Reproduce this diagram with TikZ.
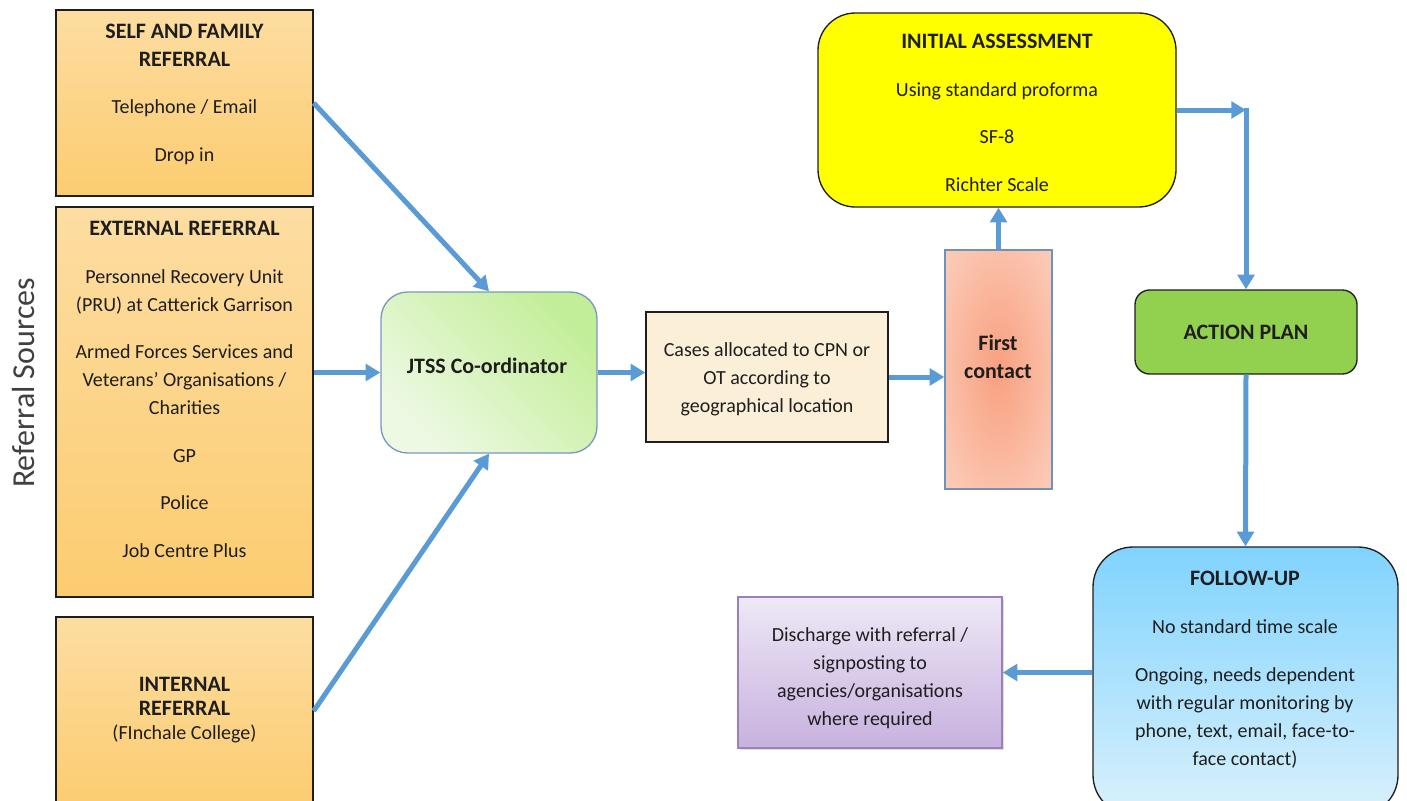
\documentclass[tikz,border=0pt]{standalone}
\usepackage{fontspec}
\setmainfont{Carlito}
\usetikzlibrary{arrows.meta,fit,shadows}
\definecolor{flowblue}{HTML}{5B9BD5}
\definecolor{orTop}{HTML}{FDDDA2}
\definecolor{orBot}{HTML}{FCCC70}
\definecolor{jtssDark}{HTML}{C3EE99}
\definecolor{jtssLight}{HTML}{EEF9E4}
\definecolor{jtssLine}{HTML}{7898BF}
\definecolor{caseFill}{HTML}{FBEFD8}
\definecolor{fcIn}{HTML}{F8A080}
\definecolor{fcMid}{HTML}{FBC4AE}
\definecolor{fcOut}{HTML}{FDE3DA}
\definecolor{fcLine}{HTML}{6F92BC}
\definecolor{iaFill}{HTML}{FFFF00}
\definecolor{apFill}{HTML}{92D050}
\definecolor{fuTop}{HTML}{80D3FE}
\definecolor{fuBot}{HTML}{DAF1FC}
\definecolor{dcTop}{HTML}{EEE8F6}
\definecolor{dcBot}{HTML}{C7B1DE}
\definecolor{dcLine}{HTML}{9C80BC}
\definecolor{txt}{HTML}{1E1E1E}
\pgfdeclareradialshading{fcshade}{\pgfpoint{0bp}{0bp}}{color(0bp)=(fcIn); color(28bp)=(fcMid); color(55bp)=(fcOut); color(75bp)=(fcOut)}
\newcommand\hdr[1]{{\fontsize{16.5}{21}\selectfont\bfseries #1}}
\begin{document}
\begin{tikzpicture}[x=0.75pt,y=-0.75pt,
  box/.style={draw=txt,line width=1pt,inner sep=0pt},
  orbox/.style={box,top color=orTop,bottom color=orBot},
  lbl/.style={align=center,inner sep=0pt,anchor=north,text=txt,font=\fontsize{15}{21}\selectfont},
  flow/.style={draw=flowblue,line width=3.75pt,-{Triangle[length=11pt,width=12.5pt]}}]
\useasboundingbox (0,0) rectangle (1407,800);
\clip (0,0) rectangle (1407,800);

% boxes
\node[orbox, fit={(56,10) (313,196)}] (self) {};
\node[orbox, fit={(56,207) (313,597)}] (ext) {};
\node[orbox, fit={(56,617) (313,805)}] (int) {};
\node[box, draw=jtssLine, rounded corners=20pt, top color=jtssDark, bottom color=jtssLight, shading angle=-45, fit={(381,292) (597,453)}] (jtss) {};
\node[box, fill=caseFill, fit={(646,312) (888,442)}] (cases) {};
\node[box, draw=fcLine, shade, shading=fcshade, fit={(945,250) (1052,489)}] (first) {};
\node[box, fill=iaFill, rounded corners=28pt, fit={(818,13) (1176,207)}] (init) {};
\node[box, fill=apFill, rounded corners=11pt, fit={(1135,290) (1357,374)}] (act) {};
\node[box, rounded corners=30pt, top color=fuTop, bottom color=fuBot, fit={(1093,547) (1398,815)}] (fu) {};
\node[box, draw=dcLine, top color=dcTop, bottom color=dcBot, drop shadow={shadow xshift=1.5pt,shadow yshift=-1.5pt,opacity=0.25}, fit={(738,597) (1002,748)}] (dis) {};

% texts
\node[rotate=90, text=txt!85, inner sep=0pt, font=\fontsize{24}{28}\selectfont] (rs) at (24,383) {Referral Sources};
\node[lbl] (selfT) at (184.5,18.4) {\strut\hdr{SELF AND FAMILY}\\\hdr{REFERRAL}\\[14.6pt]Telephone / Email\\[14.6pt]Drop in};
\node[lbl] (extT) at (184.5,215.9) {\strut\hdr{EXTERNAL REFERRAL}\\[14.6pt]Personnel Recovery Unit\\(PRU) at Catterick Garrison\\[14.6pt]Armed Forces Services and\\Veterans’ Organisations /\\Charities\\[14.6pt]GP\\[14.6pt]Police\\[14.6pt]Job Centre Plus};
\node[lbl] (intT) at (184.5,671.9) {\strut\hdr{INTERNAL}\\[-3pt]\hdr{REFERRAL}\\[-3pt](FInchale College)};
\node[lbl, anchor=center, font=\fontsize{16.5}{21}\selectfont\bfseries] (jtssT) at (487,366) {JTSS Co-ordinator};
\node[lbl] (casesT) at (767,336.4) {\strut Cases allocated to CPN or\\OT according to\\geographical location};
\node[lbl] (firstT) at (998,330.9) {\strut\hdr{First}\\\hdr{contact}};
\node[lbl] (initT) at (997,28.9) {\strut\hdr{INITIAL ASSESSMENT}\\[14.6pt]Using standard proforma\\[14.6pt]SF-8\\[14.6pt]Richter Scale};
\node[lbl, anchor=center, font=\fontsize{16.5}{21}\selectfont\bfseries] (actT) at (act.center) {ACTION PLAN};
\node[lbl] (fuT) at (1245,565.9) {\strut\hdr{FOLLOW-UP}\\[15pt]No standard time scale\\[15pt]Ongoing, needs dependent\\with regular monitoring by\\phone, text, email, face-to-\\face contact)};
\node[lbl] (disT) at (870,621.4) {\strut Discharge with referral /\\signposting to\\agencies/organisations\\where required};

% connectors
\draw[flow] (self.east) -- (jtss.north);
\draw[flow] (ext.east |- jtss.west) -- (jtss.west);
\draw[flow] (int.east) -- (jtss.south);
\draw[flow] (jtss.east) -- (jtss.east -| cases.west);
\draw[flow] (cases.east) -- (cases.east -| first.west);
\draw[flow] (first.north) -- (first.north |- init.south);
\coordinate (turn) at (act.north |- init.east);
\draw[flow] (init.east) -- (turn);
\draw[flow] ([yshift=1.8pt]turn) -- (act.north);
\draw[flow] (act.south) -- (fu.north);
\draw[flow] (dis.east -| fu.west) -- (dis.east);
\end{tikzpicture}
\end{document}
